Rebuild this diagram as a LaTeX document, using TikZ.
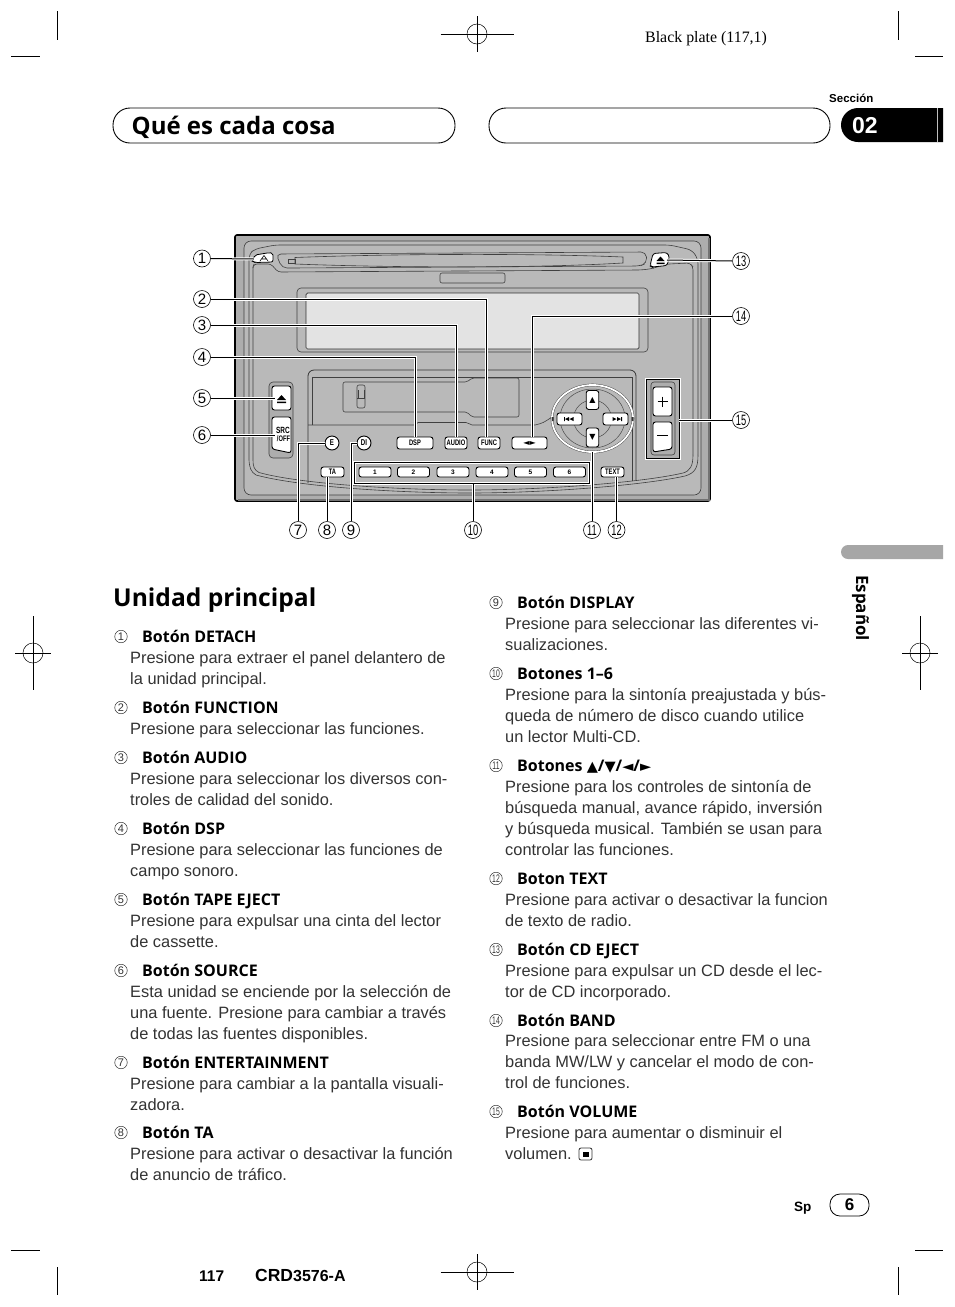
\documentclass[tikz,border=0pt]{standalone}
\usepackage{fontspec}
\usepackage{graphicx}
\setmainfont{Liberation Sans}
\newfontfamily\hdf{Open Sans}
\newfontfamily\djf{DejaVu Sans}
\newfontfamily\srf{Liberation Serif}
\usetikzlibrary{calc}
\newcount\tlc
\newcommand\fsz[1]{\fontsize{#1}{#1}\selectfont}
\newcommand\nrw[1]{\scalebox{0.72}[1]{#1}}
\newcommand\dbl[1]{\scalebox{0.62}[1]{#1}}
\definecolor{panel}{gray}{0.68}
\definecolor{face}{gray}{0.725}
\definecolor{disp}{gray}{0.89}
\definecolor{ink}{gray}{0.2}
\tikzset{
 bodytxt/.style={anchor=base west,inner sep=0pt,font=\fsz{16.4},text=ink},
 titletxt/.style={anchor=base west,inner sep=0pt,font=\hdf\bfseries\fsz{16}},
 numtxt/.style={circle,draw=ink,line width=0.5pt,minimum size=12.5pt,inner sep=0pt,font=\fsz{11},text=ink},
 lab/.style={circle,draw=black,line width=0.6pt,minimum size=17pt,inner sep=0pt,font=\fsz{15}},
 crop/.style={draw=black,line width=0.8pt},
 pill/.style={draw=black,line width=0.9pt,rounded corners=17pt},
 pline/.style={draw=black!75,line width=0.6pt},
 btn/.style={draw=black,fill=white,line width=0.9pt,rounded corners=2.5pt,inner sep=0pt,font=\bfseries\fsz{8}},
 keyb/.style={btn,minimum width=32pt,minimum height=10pt,font=\bfseries\fsz{6.5}},
 leader/.style={draw=black,line width=1pt,preaction={draw=white,line width=3pt}},
 hilite/.style={draw=black,line width=0.8pt,preaction={draw=white,line width=3pt}},
}
\newcommand\tline[3]{\global\advance\tlc by 1\relax\node[bodytxt] (b\the\tlc) at (#1,#2) {#3};}
\newcommand\titem[4]{\global\advance\tlc by 1\relax
  \node[numtxt] (n\the\tlc) at (#1,#2-5.5) {#3};
  \node[titletxt] (t\the\tlc) at (#1+21,#2) {#4};}
\newcommand\regmark[4]{
  \draw[crop] (#1-#3,#2) -- (#1+#3,#2);
  \draw[crop] (#1,#2-#4) -- (#1,#2+#4);
  \draw[line width=0.5pt] (#1,#2) circle (10);
}
\begin{document}
\begin{tikzpicture}[x=1pt,y=-1pt]
\useasboundingbox (0,0) rectangle (954,1307);
\fill[white] (0,0) rectangle (954,1307);
% crop marks
\draw[crop] (57,11) -- (57,40) (11,56) -- (40,56);
\draw[crop] (898,11) -- (898,40) (915,56) -- (943,56);
\draw[crop] (57,1267) -- (57,1295) (11,1250) -- (40,1250);
\draw[crop] (898,1267) -- (898,1295) (915,1250) -- (943,1250);
\regmark{477}{34}{36.5}{18}
\regmark{477}{1272}{36.5}{18}
\regmark{33}{653}{18}{37}
\regmark{920}{653}{18}{37}
% header
\node[anchor=base west,inner sep=0pt,font=\srf\fsz{15.9}] (plate) at (645,42) {Black plate (117,1)};
\node[anchor=base west,inner sep=0pt,font=\bfseries\fsz{11.5}] (secc) at (829,102) {Sección};
\draw[pill] (113,108) rectangle (455,143);
\draw[pill] (489,108) rectangle (830,143);
\node[anchor=base west,inner sep=0pt,font=\hdf\bfseries\fsz{24}] (head) at (131.5,134) {Qué es cada cosa};
\fill[black] (943,108) -- (858,108) arc[start angle=-90,end angle=-270,radius=17] -- (943,142) -- cycle;
\draw[white!75!black,line width=0.7pt] (937,108) -- (937,142);
\node[anchor=base west,inner sep=0pt,text=white,font=\bfseries\fsz{23}] (sec) at (852,133) {02};
% grey tab
\fill[black!35] (943,545) -- (848,545) arc[start angle=-90,end angle=-270,radius=7] -- (943,559) -- cycle;
\node[anchor=base west,rotate=-90,inner sep=0pt,font=\hdf\bfseries\fsz{17}] (esp) at (856,575) {Español};
% ==== panel ====
\draw[black,line width=1.6pt,fill=panel,rounded corners=2pt] (235,235) rectangle (710,501);
\draw[black!55,line width=1.4pt] (709,238) -- (709,500) -- (238,500);
\draw[pline,rounded corners=7pt,fill=face] (244,241) rectangle (701,495);
% second contour
\draw[pline,rounded corners=5pt] (249,300) -- (249,254) -- (255,249) -- (275,245) -- (670,245) -- (692,250) -- (698,259) -- (698,455);
\draw[pline] (249,300) -- (249,460) .. controls (249.5,468) and (251,472) .. (256,475) .. controls (300,487) and (400,493) .. (470,493) .. controls (540,493) and (640,486) .. (685,476) .. controls (695,473) and (698,468) .. (698,455);
% third contour
\draw[pline,rounded corners=3pt] (253,300) -- (253,267) -- (254,264) -- (271,264) -- (278,272) -- (640,270) -- (650,269) -- (668,264) -- (690,263) -- (693,267) -- (693,455);
\draw[pline] (253,300) -- (253,460) .. controls (253,466) and (254,470) .. (259,472.5) .. controls (300,484) and (400,490) .. (470,490) .. controls (540,490) and (640,483) .. (683,473) .. controls (690,471) and (693,466) .. (693,455);
% CD bezel
\draw[pline,rounded corners=5pt] (290,268) -- (282,268) -- (276,254) -- (646,252) -- (647,263) -- (640,266) -- (290,268);
\draw[pline] (295,257.5) .. controls (400,253.5) and (540,253.5) .. (623,257) -- (623,263) .. controls (540,268) and (400,268) .. (295,264) -- cycle;
\draw[pline] (288,259) rectangle (295,263.5);
\draw[pline,rounded corners=2pt] (440,273) rectangle (505,283);
% detach + eject
\node[inner sep=0pt,minimum size=0pt] (detach) at (254,259) {};
\draw[black,line width=0.8pt,fill=white,rounded corners=2pt] (252,261) -- (255,255) -- (269,252.7) -- (273,253) -- (273,262) -- (255,262.5) -- cycle;
\draw[line width=0.6pt] (260,261) -- (264,255.5) -- (268,261) (262,259) -- (266,259);
\draw[black,line width=0.8pt,fill=white,rounded corners=2.5pt] (650,266) -- (653,253.5) -- (667,252.5) -- (669.5,257) -- (667,265.5) -- (652,267) -- cycle;
\coordinate (ejectcd) at (667,260);
\fill (656.5,261) -- (660.5,256.5) -- (664.5,261) -- cycle (656.5,262.5) rectangle (664.5,264);
% display
\draw[pline,rounded corners=4pt] (297,288) rectangle (648,352);
\draw[black!80,line width=0.7pt,fill=disp,rounded corners=1.5pt] (306,293) rectangle (639,349);
% cassette
\draw[black!80,line width=0.8pt,rounded corners=6pt] (308,483) -- (308,370) -- (636,370) -- (636,480);
\draw[pline] (312,425) -- (312,377) -- (632,377) -- (632,481);
\draw[pline] (308,425) -- (415,425) .. controls (417,423) .. (418,422.5) -- (466,422.5) .. controls (470,424) .. (472,425) -- (535,425) .. controls (543,423) .. (552,417);
\draw[pline,rounded corners=2pt] (343,382) -- (343,412) -- (467,412) -- (472,417) -- (519,417) -- (519,378) -- (472,378) -- (467,382) -- cycle;
\draw[pline,rounded corners=2pt] (357,385) rectangle (365,408);
\draw[pline] (357,398) -- (365,398) (358,390) -- (358,398) (364,390) -- (364,398);
% src/eject block
\draw[pline,fill=panel,rounded corners=4pt] (269,382) rectangle (293,458);
\node[btn,minimum width=19pt,minimum height=24pt] (ejt) at (281.5,398) {};
\fill (277,400) -- (281.5,395) -- (286,400) -- cycle (277,401.5) rectangle (286,403);
\draw[black,line width=0.9pt,fill=white,rounded corners=2.5pt] (272,417) -- (291,417) -- (291,453) -- (272,449) -- cycle;
\node[inner sep=0pt,font=\bfseries\fsz{9}] (src) at (283,430.5) {\nrw{SRC}};
\node[inner sep=0pt,font=\bfseries\fsz{8}] (off) at (283.5,439) {\nrw{/OFF}};
\coordinate (ejtin) at (275,398);
\coordinate (srcin) at (275,435);
% small buttons
\node[btn,circle,minimum size=14pt,font=\bfseries\fsz{8.5}] (e) at (332,443) {\nrw{E}};
\node[btn,circle,minimum size=14pt,font=\bfseries\fsz{8.5}] (di) at (364,443) {\nrw{DI}};
\node[btn,minimum width=36pt,minimum height=12pt] (dsp) at (415,443) {\nrw{DSP}};
\node[btn,minimum width=22pt,minimum height=12pt] (audio) at (456,443) {\nrw{AUDIO}};
\node[btn,minimum width=22pt,minimum height=12pt] (func) at (489,443) {\nrw{FUNC}};
\node[btn,minimum width=35pt,minimum height=12pt,font=\djf\fsz{8}] (band) at (529.5,443) {◄►};
\draw[hilite] (354,462) rectangle (589,483);
\node[inner sep=0pt,minimum size=0pt] (rowbox) at (471.5,484) {};
\node[btn,minimum width=23pt,minimum height=10pt] (ta) at (332.5,472) {\nrw{TA}};
\node[keyb] (k1) at (375,472) {1};
\node[keyb] (k2) at (413.5,472) {2};
\node[keyb] (k3) at (453,472) {3};
\node[keyb] (k4) at (492,472) {4};
\node[keyb] (k5) at (530.5,472) {5};
\node[keyb] (k6) at (569.5,472) {6};
\node[btn,minimum width=23pt,minimum height=10pt] (text) at (612.5,472) {\nrw{TEXT}};
% ring
\draw[black!75,line width=2.6pt] (592.5,418.5) ellipse (40.5 and 33.5);
\draw[white,line width=1.8pt] (592.5,418.5) ellipse (40.5 and 33.5);
\draw[black!70,line width=0.5pt] (592.5,418.5) ellipse (32.5 and 29.5);
\draw[black!70,line width=0.5pt] (592.5,419) circle (19);
\fill[black!80] (551.5,417) rectangle (553.5,421) (631.5,417) rectangle (633.5,421);
\node[inner sep=0pt,minimum size=0pt] (ring) at (592,452) {};
\node[btn,minimum width=12.5pt,minimum height=19pt,font=\djf\fsz{8}] (up) at (592.5,400) {▲};
\node[btn,minimum width=12.5pt,minimum height=19pt,font=\djf\fsz{8}] (down) at (592.5,437.5) {▼};
\node[btn,minimum width=25pt,minimum height=12pt] (prev) at (569.5,419) {};
\fill (564,417) rectangle (564.8,421) (565,419) -- (569,417) -- (569,421) -- cycle (569.5,419) -- (573.5,417) -- (573.5,421) -- cycle;
\node[btn,minimum width=25pt,minimum height=12pt] (next) at (615.5,419) {};
\fill (621.2,417) rectangle (622,421) (621,419) -- (617,417) -- (617,421) -- cycle (616.5,419) -- (612.5,417) -- (612.5,421) -- cycle;
% volume
\draw[hilite,fill=panel] (646,379) rectangle (679,458);
\draw[pline,rounded corners=3pt] (651,382) rectangle (675,455);
\node[btn,minimum width=19pt,minimum height=29pt] (plus) at (662.5,401.5) {};
\draw[line width=1.2pt] (657.5,401.5) -- (667.5,401.5) (662.5,396.5) -- (662.5,406.5);
\draw[black,line width=0.9pt,fill=white,rounded corners=2.5pt] (653,422) -- (672,422) -- (672,449) -- (653,452) -- cycle;
\draw[line width=1.4pt] (657,435.5) -- (668,435.5);
\coordinate (plusin) at (679,420);
% labels
\node[lab] (l1) at (202,258.5) {1};
\node[lab] (l2) at (202,299) {2};
\node[lab] (l3) at (202,325) {3};
\node[lab] (l4) at (202,357) {4};
\node[lab] (l5) at (202,398) {5};
\node[lab] (l6) at (202,435) {6};
\node[lab] (l7) at (298,530) {7};
\node[lab] (l8) at (327,530) {8};
\node[lab] (l9) at (351,530) {9};
\node[lab] (l10) at (473,530) {\dbl{10}};
\node[lab] (l11) at (592,530) {\dbl{11}};
\node[lab] (l12) at (616.5,530) {\dbl{12}};
\node[lab] (l13) at (741,261) {\dbl{13}};
\node[lab] (l14) at (741,316) {\dbl{14}};
\node[lab] (l15) at (741,420) {\dbl{15}};
% leaders
\draw[leader] (l1.east) -- (detach);
\draw[leader] (l2.east) -| ([xshift=-3pt]func.north);
\draw[leader] (l3.east) -| (audio.north);
\draw[leader] (l4.east) -| (dsp.north);
\draw[leader] (l5.east) -- (ejtin);
\draw[leader] (l6.east) -- (srcin);
\draw[leader] (l7.north) |- (e.west);
\draw[leader] (l8.north) -- (l8.north |- ta.south);
\draw[leader] (l9.north) |- (di.west);
\draw[leader] (l10.north) -- (l10.north |- rowbox);
\draw[leader] (l11.north) -- (ring);
\draw[leader] (l12.north) -- (l12.north |- text.south);
\draw[leader] (l13.west) -- (ejectcd);
\draw[leader] (l14.west) -| ([xshift=2.5pt]band.north);
\draw[leader] (l15.west) -- (plusin);
% section title
\node[anchor=base west,inner sep=0pt,font=\hdf\bfseries\fsz{24.6}] (unidad) at (113,606) {Unidad principal};
% left column
\titem{121}{642}{1}{Botón DETACH}
\tline{130}{663}{Presione para extraer el panel delantero de}
\tline{130}{684}{la unidad principal.}
\titem{121}{713}{2}{Botón FUNCTION}
\tline{130}{734}{Presione para seleccionar las funciones.}
\titem{121}{763}{3}{Botón AUDIO}
\tline{130}{784}{Presione para seleccionar los diversos con-}
\tline{130}{805}{troles de calidad del sonido.}
\titem{121}{834}{4}{Botón DSP}
\tline{130}{855}{Presione para seleccionar las funciones de}
\tline{130}{876}{campo sonoro.}
\titem{121}{905}{5}{Botón TAPE EJECT}
\tline{130}{926}{Presione para expulsar una cinta del lector}
\tline{130}{947}{de cassette.}
\titem{121}{976}{6}{Botón SOURCE}
\tline{130}{997}{Esta unidad se enciende por la selección de}
\tline{130}{1018}{una fuente. Presione para cambiar a través}
\tline{130}{1039}{de todas las fuentes disponibles.}
\titem{121}{1068}{7}{Botón ENTERTAINMENT}
\tline{130}{1089}{Presione para cambiar a la pantalla visuali-}
\tline{130}{1110}{zadora.}
\titem{121}{1138}{8}{Botón TA}
\tline{130}{1159}{Presione para activar o desactivar la función}
\tline{130}{1180}{de anuncio de tráfico.}
% right column
\titem{496}{608}{9}{Botón DISPLAY}
\tline{505}{629}{Presione para seleccionar las diferentes vi-}
\tline{505}{650}{sualizaciones.}
\titem{496}{679}{\dbl{10}}{Botones 1–6}
\tline{505}{700}{Presione para la sintonía preajustada y bús-}
\tline{505}{721}{queda de número de disco cuando utilice}
\tline{505}{742}{un lector Multi-CD.}
\titem{496}{771}{\dbl{11}}{Botones {\djf\fsz{14.5}▲}/{\djf\fsz{14.5}▼}/{\djf\fsz{14.5}◄}/{\djf\fsz{14.5}►}}
\tline{505}{792}{Presione para los controles de sintonía de}
\tline{505}{813}{búsqueda manual, avance rápido, inversión}
\tline{505}{834}{y búsqueda musical. También se usan para}
\tline{505}{855}{controlar las funciones.}
\titem{496}{884}{\dbl{12}}{Boton TEXT}
\tline{505}{905}{Presione para activar o desactivar la funcion}
\tline{505}{926}{de texto de radio.}
\titem{496}{955}{\dbl{13}}{Botón CD EJECT}
\tline{505}{976}{Presione para expulsar un CD desde el lec-}
\tline{505}{997}{tor de CD incorporado.}
\titem{496}{1026}{\dbl{14}}{Botón BAND}
\tline{505}{1046}{Presione para seleccionar entre FM o una}
\tline{505}{1067}{banda MW/LW y cancelar el modo de con-}
\tline{505}{1088}{trol de funciones.}
\titem{496}{1117}{\dbl{15}}{Botón VOLUME}
\tline{505}{1138}{Presione para aumentar o disminuir el}
\tline{505}{1159}{volumen.}
\draw[black!80,line width=0.8pt,rounded corners=2pt] (579,1148) rectangle (592,1160);
\fill (582.5,1151.5) rectangle (588.5,1156.5);
% footer
\node[anchor=base west,inner sep=0pt,font=\bfseries\fsz{13.5}] (sp) at (794,1211) {Sp};
\draw[black,line width=0.8pt,rounded corners=10pt] (830,1194) rectangle (869,1216);
\node[inner sep=0pt,font=\bfseries\fsz{17}] (pg) at (849.5,1205) {6};
\node[anchor=base west,inner sep=0pt,font=\bfseries\fsz{15.5}] (f117) at (199,1281) {117};
\node[anchor=base west,inner sep=0pt,font=\bfseries\fsz{17.5}] (crd) at (255,1281) {CRD{\fsz{16}3576-A}};
\end{tikzpicture}
\end{document}
